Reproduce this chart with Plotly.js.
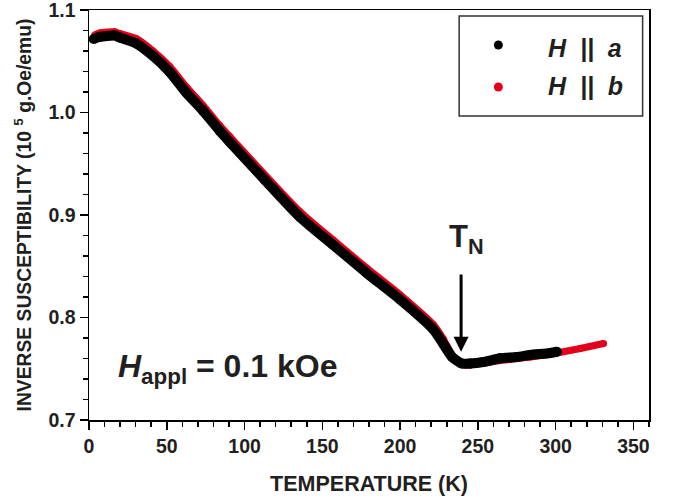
<!DOCTYPE html>
<html>
<head>
<meta charset="utf-8">
<script src="https://cdn.plot.ly/plotly-3.0.1.min.js"></script>
<style>html,body{margin:0;padding:0;background:#fff;}#chart{width:675px;height:500px;}</style>
</head>
<body>
<div id="chart"></div>
<script>
// H || a (black) — temperature (K) and inverse susceptibility (10^5 g.Oe/emu)
var tempA = [3.0, 6.9, 16.5, 19.8, 30.5, 41.2, 51.9, 62.7, 73.4, 84.1, 90.5, 113.1, 135.6, 157.0, 178.5, 199.9, 221.4, 227.8, 233.4, 239.6, 245.0, 253.5, 264.3, 275.0, 283.6, 296.5, 300.8];
var chiA  = [1.0717, 1.0737, 1.0751, 1.0732, 1.0673, 1.0551, 1.0395, 1.0190, 1.0015, 0.9820, 0.9712, 0.9341, 0.8980, 0.8707, 0.8434, 0.8176, 0.7883, 0.7741, 0.7615, 0.7551, 0.7551, 0.7566, 0.7602, 0.7615, 0.7634, 0.7654, 0.7666];
// H || b (red)
var tempB = [3.7, 6.9, 16.5, 19.8, 30.5, 41.2, 51.9, 62.7, 73.4, 84.1, 90.5, 135.6, 157.0, 178.5, 199.9, 221.4, 227.8, 233.4, 238.5, 245.0, 264.3, 283.6, 300.8, 315.8, 330.8];
var chiB  = [1.0756, 1.0776, 1.0787, 1.0771, 1.0720, 1.0600, 1.0449, 1.0249, 1.0068, 0.9873, 0.9766, 0.9034, 0.8756, 0.8483, 0.8223, 0.7931, 0.7790, 0.7634, 0.7546, 0.7537, 0.7580, 0.7615, 0.7654, 0.7698, 0.7746];

var xTicks = [0, 50, 100, 150, 200, 250, 300, 350];
var yTicks = [0.7, 0.8, 0.9, 1.0, 1.1];
var yTickText = ['0.7', '0.8', '0.9', '1.0', '1.1'];
var seriesNames = ['H&nbsp;&nbsp;||&nbsp;&nbsp;a', 'H&nbsp;&nbsp;||&nbsp;&nbsp;b'];
var seriesColors = ['#000000', '#e2001a'];
var TN = 239.2;

var FONT = 'Liberation Sans, Arial, Helvetica, sans-serif';
var txtColor = '#231f20';

var traces = [
  {x: tempB, y: chiB, name: 'H || b', type: 'scatter', mode: 'lines+markers',
   line: {color: seriesColors[1], width: 7, shape: 'spline', smoothing: 0.6},
   marker: {color: seriesColors[1], size: 7}, showlegend: false, hoverinfo: 'x+y'},
  {x: tempA, y: chiA, name: 'H || a', type: 'scatter', mode: 'lines+markers',
   line: {color: seriesColors[0], width: 10, shape: 'spline', smoothing: 0.6},
   marker: {color: seriesColors[0], size: 10}, showlegend: false, hoverinfo: 'x+y'}
];

var axisCommon = {
  showgrid: false, zeroline: false, showline: true, mirror: true,
  linecolor: '#000', linewidth: 1.5, ticks: 'outside', ticklen: 8, tickwidth: 1.5, tickcolor: '#000',
  ticklabeloverflow: 'allow',
  tickfont: {family: FONT, size: 19.5, color: txtColor, weight: 700}
};

var layout = {
  width: 675, height: 500,
  margin: {l: 89, r: 26, t: 10, b: 80},
  paper_bgcolor: '#fff', plot_bgcolor: '#fff',
  showlegend: false,
  xaxis: Object.assign({}, axisCommon, {
    range: [0, 360], tickmode: 'array', tickvals: xTicks,
    minor: {dtick: 10, tick0: 0, ticks: 'outside', ticklen: 5, tickwidth: 1.5, tickcolor: '#000'},
    title: {text: 'TEMPERATURE (K)', font: {family: FONT, size: 21.5, color: txtColor, weight: 700}, standoff: 20}
  }),
  yaxis: Object.assign({}, axisCommon, {
    range: [0.7, 1.1], tickmode: 'array', tickvals: yTicks, ticktext: yTickText,
    minor: {dtick: 0.02, tick0: 0.7, ticks: 'outside', ticklen: 5, tickwidth: 1.5, tickcolor: '#000'},
    title: {text: 'INVERSE SUSCEPTIBILITY (10 <sup>5</sup> g.Oe/emu)', font: {family: FONT, size: 19.3, color: txtColor, weight: 700}, standoff: 11}
  }),
  shapes: [
    {type: 'rect', xref: 'paper', yref: 'paper', x0: 0.661, x1: 0.9886, y0: 0.7415, y1: 0.9854,
     line: {color: '#333', width: 1.5}, fillcolor: 'rgba(0,0,0,0)'},
    {type: 'circle', xref: 'paper', yref: 'paper', xsizemode: 'pixel', ysizemode: 'pixel',
     xanchor: 0.731, yanchor: 0.9146, x0: -4.5, x1: 4.5, y0: -4.5, y1: 4.5,
     fillcolor: seriesColors[0], line: {width: 0}},
    {type: 'circle', xref: 'paper', yref: 'paper', xsizemode: 'pixel', ysizemode: 'pixel',
     xanchor: 0.731, yanchor: 0.8122, x0: -4.5, x1: 4.5, y0: -4.5, y1: 4.5,
     fillcolor: seriesColors[1], line: {width: 0}}
  ],
  annotations: [
    {xref: 'paper', yref: 'paper', x: 0.816, y: 0.9073, xanchor: 'left', yanchor: 'middle', showarrow: false,
     text: '<b><i>' + seriesNames[0] + '</i></b>', font: {family: FONT, size: 25, color: txtColor}},
    {xref: 'paper', yref: 'paper', x: 0.816, y: 0.8146, xanchor: 'left', yanchor: 'middle', showarrow: false,
     text: '<b><i>' + seriesNames[1] + '</i></b>', font: {family: FONT, size: 25, color: txtColor}},
    {xref: 'x', yref: 'y', x: 17.5, y: 0.7507, xanchor: 'left', yanchor: 'middle', showarrow: false,
     text: '<b><i>H</i><sub>appl</sub> = 0.1 kOe</b>', font: {family: FONT, size: 32, color: txtColor}},
    {xref: 'x', yref: 'y', x: 230.3, y: 0.8767, xanchor: 'left', yanchor: 'middle', showarrow: false,
     text: '<b>T<sub>N</sub></b>', font: {family: FONT, size: 31, color: txtColor}},
    {xref: 'x', yref: 'y', x: TN, y: 0.7666, axref: 'x', ayref: 'y', ax: TN, ay: 0.8434,
     text: '', showarrow: true, arrowhead: 2, arrowsize: 1, arrowwidth: 3, arrowcolor: '#000'}
  ]
};

Plotly.newPlot('chart', traces, layout, {staticPlot: true, displayModeBar: false});
</script>
</body>
</html>
